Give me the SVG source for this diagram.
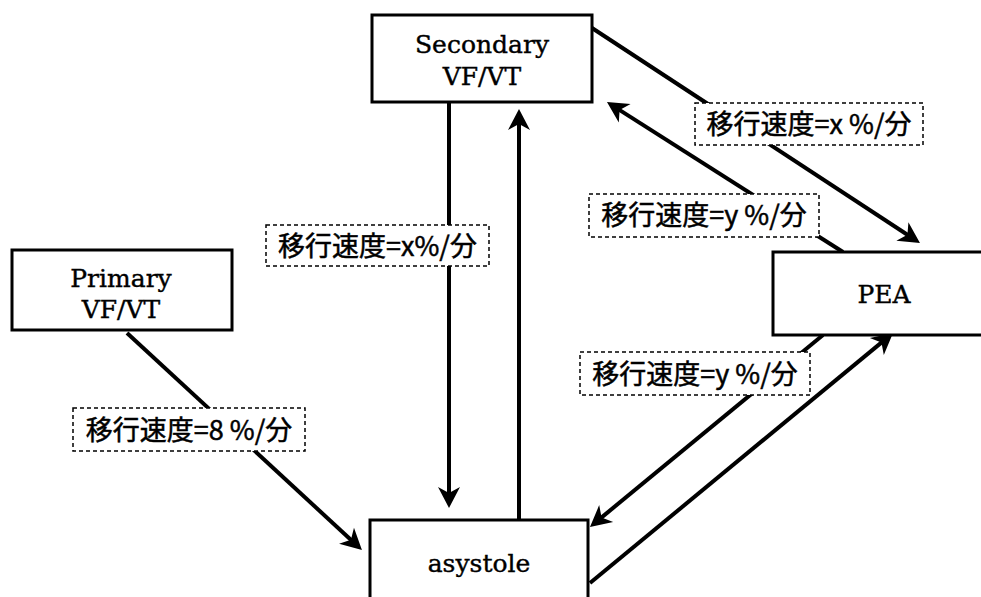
<svg xmlns="http://www.w3.org/2000/svg" width="981" height="597" viewBox="0 0 981 597">
<style>
.node{fill:#fff;stroke:#000;stroke-width:3}
.nt{font-family:"DejaVu Serif","Liberation Serif",serif;font-size:25px;fill:#000;stroke:#000;stroke-width:0.4;text-anchor:middle}
.conn{stroke:#000;stroke-width:4;fill:none;marker-end:url(#ah)}
.lb{fill:#fff;stroke:#000;stroke-width:1.5;stroke-dasharray:4 3}
.lt{font-family:"Noto Sans CJK JP","Noto Sans CJK SC",sans-serif;font-size:27px;fill:#000;stroke:#000;stroke-width:0.5;text-anchor:middle}
</style>
<defs>
<marker id="ah" markerUnits="userSpaceOnUse" viewBox="-13 -13 26 26" markerWidth="26" markerHeight="26" refX="0" refY="0" orient="auto" overflow="visible">
<path d="M10,0 L-11,-11 L-5,0 L-11,11 Z" fill="#000"/>
</marker>
</defs>
<rect width="981" height="597" fill="#fff"/>
<g id="connectors">
<line class="conn" x1="449" y1="102" x2="449" y2="498"/>
<line class="conn" x1="519" y1="520" x2="519" y2="119"/>
<line class="conn" x1="592" y1="28" x2="911.6" y2="237.5"/>
<line class="conn" x1="843" y1="252" x2="615.4" y2="107.4"/>
<line class="conn" x1="823" y1="335" x2="597.7" y2="520.6"/>
<line class="conn" x1="590" y1="583" x2="885.3" y2="339.4"/>
<line class="conn" x1="127" y1="333" x2="354.6" y2="543.2"/>
</g>
<g id="labels">
<g id="label-sec-pea"><rect class="lb" x="695" y="103" width="228" height="42"/><text class="lt" x="809" y="134">移行速度=x %/分</text></g>
<g id="label-pea-sec"><rect class="lb" x="589" y="194" width="230" height="43"/><text class="lt" x="704" y="225">移行速度=y %/分</text></g>
<g id="label-sec-asy"><rect class="lb" x="266" y="225" width="223" height="41"/><text class="lt" x="377.5" y="256">移行速度=x%/分</text></g>
<g id="label-pri-asy"><rect class="lb" x="73" y="408" width="232" height="43"/><text class="lt" x="189" y="440">移行速度=8 %/分</text></g>
<g id="label-pea-asy"><rect class="lb" x="580" y="352" width="230" height="43"/><text class="lt" x="695" y="384">移行速度=y %/分</text></g>
</g>
<g id="secondary">
<rect class="node" x="372" y="15" width="220" height="87"/>
<text class="nt" x="482" y="53">Secondary</text>
<text class="nt" x="482" y="85">VF/VT</text>
</g>
<g id="primary">
<rect class="node" x="12" y="250" width="220" height="80"/>
<text class="nt" x="121" y="287">Primary</text>
<text class="nt" x="121" y="318">VF/VT</text>
</g>
<g id="pea">
<rect class="node" x="773" y="252" width="220" height="83"/>
<text class="nt" x="884" y="303">PEA</text>
</g>
<g id="asystole">
<rect class="node" x="370" y="520" width="218" height="90"/>
<text class="nt" x="479" y="572">asystole</text>
</g>
</svg>
